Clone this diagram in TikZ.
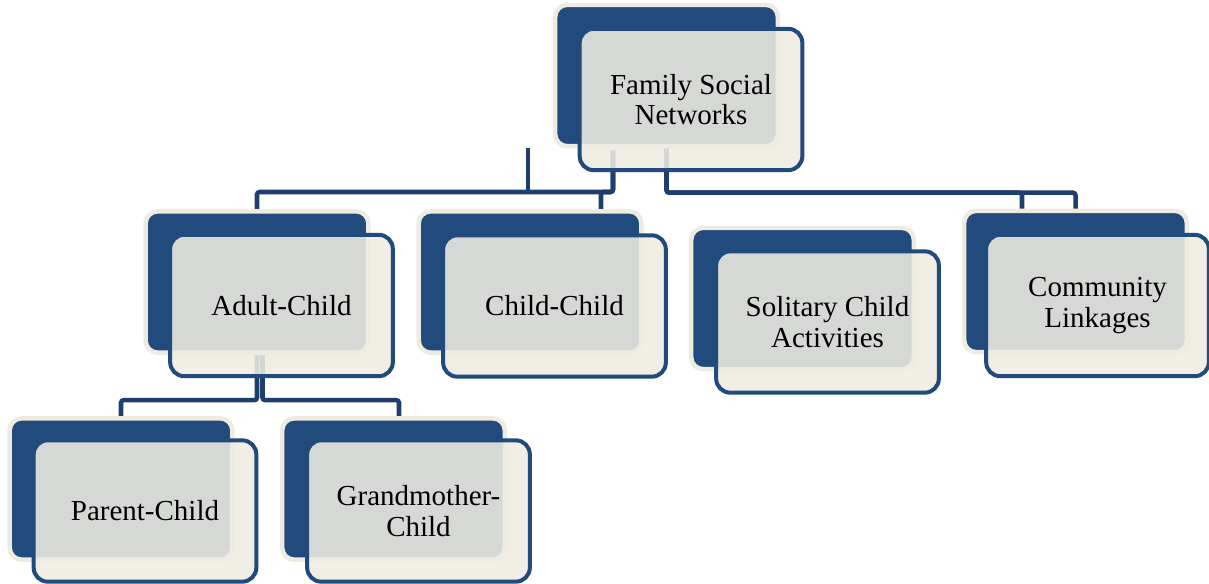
\documentclass[tikz,border=0pt]{standalone}
\usepackage{fontspec}
\setmainfont{Liberation Serif}
\usetikzlibrary{calc,backgrounds}
\definecolor{cardblue}{RGB}{33,74,125}
\definecolor{cardcream}{RGB}{238,236,225}
\definecolor{linkblue}{RGB}{30,62,108}

\begin{document}
\begin{tikzpicture}[x=0.75pt,y=-0.75pt,
    backcard/.style={rectangle,rounded corners=9pt,fill=cardblue,draw=cardcream,line width=3.4pt,
        minimum width=167pt,minimum height=106pt,inner sep=0pt,outer sep=0pt},
    frontcard/.style={rectangle,rounded corners=10.5pt,fill=cardcream,fill opacity=0.88,text opacity=1,
        draw=cardblue,line width=3pt,minimum width=167pt,minimum height=106pt,outer sep=0pt,
        align=center,font=\fontsize{21.75}{23}\selectfont},
    linkline/.style={draw=linkblue,line width=3.4pt,rounded corners=2pt}]
            \useasboundingbox (0,0) rectangle (1209,584);
            % back cards
            \node[backcard] (fsnb) at (666.5,75.5) {};    %family
            \node[backcard] (acb) at (257,282) {};        %adult
            \node[backcard] (ccb) at (530,282) {};        %child
            \node[backcard] (scb) at (802.5,298.5) {};    %solitary
            \node[backcard] (clb) at (1075.5,281.5) {};   %community
            \node[backcard] (pcb) at (121,489) {};        %parent
            \node[backcard] (gcb) at (393.5,489) {};      %grandmother
            % front cards
            \node[frontcard] (fsn) at ([shift={(24.5,24)}]fsnb) {Family Social\\Networks};
            \node[frontcard] (ac) at ([shift={(24.5,23.5)}]acb) {Adult-Child};
            \node[frontcard] (cc) at ([shift={(24.5,24)}]ccb) {Child-Child};
            \node[frontcard] (sc) at ([shift={(25,23.5)}]scb) {Solitary Child\\Activities};
            \node[frontcard] (cl) at ([shift={(22,24)}]clb) {Community\\Linkages};
            \node[frontcard] (pc) at ([shift={(24,22)}]pcb) {Parent-Child};
            \node[frontcard] (gc) at ([shift={(25,22)}]gcb) {Grandmother-\\Child};
            % connectors
            \begin{scope}[on background layer]
            \draw[linkline] ($(fsn)+(-78,51)$) -- ++(0,41.5) -| (acb.north);                 % fsn-ac
            \draw[linkline] ($(fsn)+(-78,51)$) -- ++(0,41.5) -| ($(ccb.north)+(71,0)$);      % fsn-cc
            \draw[linkline] ($(fsnb.south)+(-138.5,2)$) -- ++(0,44.5);
            \draw[linkline] (fsnb.south) -- ++(0,46.5) -| (clb.north);                     % fsn-cl
            \draw[linkline] (fsnb.south) -- ++(0,46.5) -| ($(clb.north)+(-53.5,0)$);
            \draw[linkline] (acb.south) -- ++(0,47.5) -| (pcb.north);                       % ac-pc
            \draw[linkline] ($(acb.south)+(5.5,0)$) -- ++(0,47.5) -| ($(gcb.north)+(5.5,0)$); % ac-gc
            \end{scope}
            \end{tikzpicture}
\end{document}
